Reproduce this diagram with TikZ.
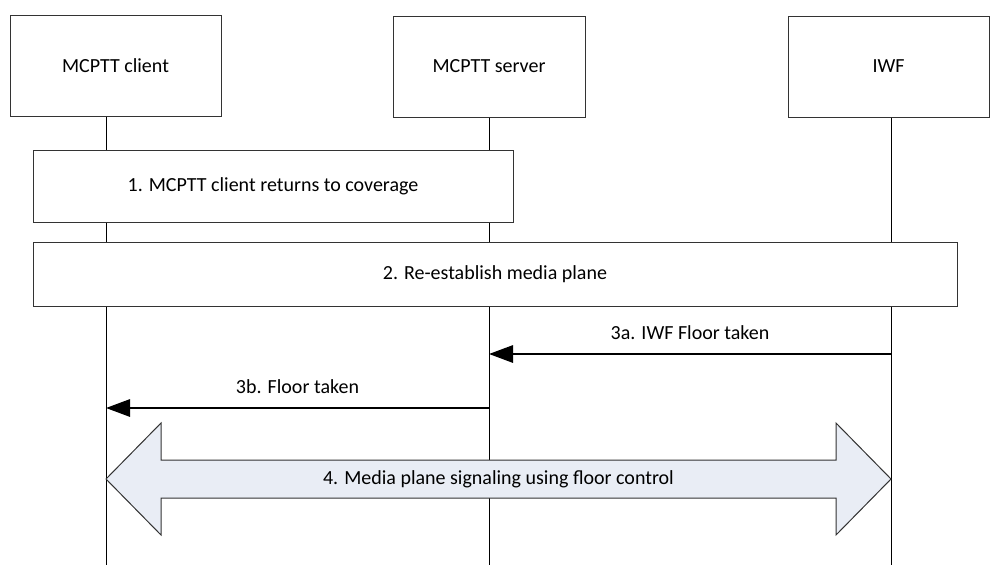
\documentclass[tikz,border=0pt]{standalone}
\usepackage{fontspec}
\setmainfont{Carlito}
\usetikzlibrary{arrows.meta, calc}
\definecolor{arrowfill}{HTML}{E9EDF5}
\definecolor{boxline}{HTML}{333333}

\begin{document}
\begin{tikzpicture}[
    x=0.75pt, y=-0.75pt,
    entity/.style={rectangle, draw=boxline, fill=white, line width=0.75pt,
                   minimum height=75.75pt, font=\fontsize{15}{18}\selectfont},
    stepbox/.style={rectangle, draw=boxline, fill=white, line width=0.75pt,
                    font=\fontsize{15}{18}\selectfont},
    lifeline/.style={line width=0.6pt, black},
    msg/.style={-{Triangle[length=18pt, width=13pt]}, line width=1.5pt, black},
    lbl/.style={font=\fontsize{15}{18}\selectfont, midway, above=7pt},
    bigarrow/.style={draw=boxline, fill=arrowfill, line width=0.75pt}
]
    \useasboundingbox (0,0) rectangle (991,568);

    % participants
    \node[entity, minimum width=158.25pt] (client) at (115.5,65.5) {MCPTT client};
    \node[entity, minimum width=144pt] (server) at (489,66.5) {MCPTT server};
    \node[entity, minimum width=150.75pt] (iwf) at (888.5,66.5) {IWF};

    \coordinate (clientEnd) at (106,565);
    \coordinate (serverEnd) at (489,565);
    \coordinate (iwfEnd) at (891,565);

    \draw[lifeline] (client.south -| clientEnd) -- (clientEnd);
    \draw[lifeline] (server.south -| serverEnd) -- (serverEnd);
    \draw[lifeline] (iwf.south -| iwfEnd) -- (iwfEnd);

    % steps
    \node[stepbox, minimum width=360pt, minimum height=54pt] (coverage) at (273,186)
        {1. MCPTT client returns to coverage};
    \node[stepbox, minimum width=693pt, minimum height=48pt] (reest) at (495,274)
        {2. Re-establish media plane};

    % messages
    \coordinate (iwf3a) at (891,354);
    \coordinate (server3a) at (489,354);
    \coordinate (server3b) at (489,408);
    \coordinate (client3b) at (106,408);
    \draw[msg] (iwf3a) -- node[lbl]{3a. IWF Floor taken} (server3a);
    \draw[msg] (server3b) -- node[lbl]{3b. Floor taken} (client3b);

    % media plane signaling
    \coordinate (client4) at (106,479);
    \coordinate (iwf4) at (891,479);
    \draw[bigarrow] (client4) -- ++(55,-56) -- ++(0,37) -- ($(iwf4)+(-55,-19)$)
        -- ++(0,-37) -- (iwf4) -- ++(-55,56) -- ++(0,-37) -- ($(client4)+(55,19)$)
        -- ++(0,37) -- cycle;
    \node[font=\fontsize{15}{18}\selectfont] (media) at ($(client4)!0.5!(iwf4)$)
        {4. Media plane signaling using floor control};
\end{tikzpicture}
\end{document}
